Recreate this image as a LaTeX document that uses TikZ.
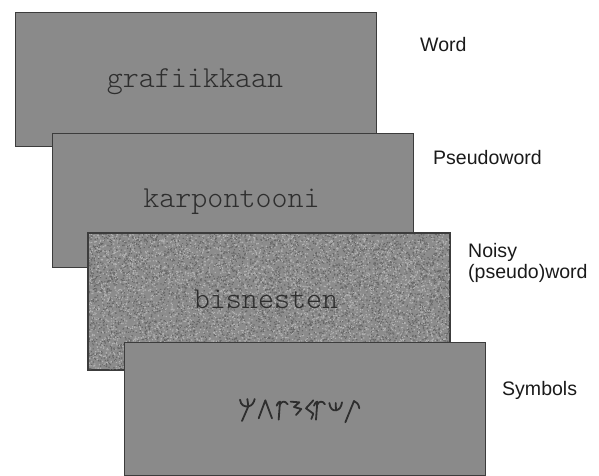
\documentclass[tikz,border=0pt]{standalone}
\usepackage{fontspec}
\setmainfont{Liberation Sans}
\newfontfamily\stimfont{Latin Modern Mono Light}
\definecolor{boxfill}{HTML}{8A8A8A}
\definecolor{boxedge}{HTML}{3C3C3C}
\definecolor{wordcol}{HTML}{2E2E2E}
\definecolor{labelcol}{HTML}{1A1A1A}
\definecolor{noisebase}{HTML}{8C8C8C}
\definecolor{noiselight}{HTML}{B2B2B2}
\definecolor{noisedark}{HTML}{676767}
\begin{document}
\begin{tikzpicture}[x=1bp,y=-1bp,
  card/.style={rectangle, fill=boxfill, draw=boxedge, line width=1.2bp, inner sep=0pt,
    minimum width=361bp, anchor=north west},
  stim/.style={anchor=base, text=wordcol, inner sep=0pt, font=\stimfont\fontsize{30.6}{33}\selectfont},
  lab/.style={anchor=base west, text=labelcol, inner sep=0pt, font=\fontsize{19.6}{21}\selectfont},
  glyph/.style={draw=wordcol, line width=1.8bp, line cap=round, line join=round}]
\useasboundingbox (0,0) rectangle (599,476);

% Word card
\node[card, minimum height=134bp] (word) at (15,12) {};
\node[stim] (wordtxt) at (195,88) {grafiikkaan};

% Pseudoword card
\node[card, minimum height=134bp] (pseudo) at (52,133) {};
\node[stim] (pseudotxt) at (231.5,208) {karpontooni};

% Noisy card
\node[card, fill=noisebase, minimum height=136bp] (noisy) at (88,233) {};
\begin{scope}
  \pgfmathsetseed{4711}
  \clip (noisy.north west) rectangle (noisy.south east);
  \foreach \b in {1,...,12}{
    \fill[noiselight] \foreach \i in {1,...,450}{ ({88+361*rnd},{233+136*rnd}) rectangle ++(1.2,1.2) };
    \fill[noisedark] \foreach \i in {1,...,450}{ ({88+361*rnd},{233+136*rnd}) rectangle ++(1.2,1.2) };
  }
\end{scope}
\draw[boxedge, line width=1.2bp] (noisy.north west) rectangle (noisy.south east);
\node[stim] (noisytxt) at (266,308) {bisnesten};

% Symbols card
\node[card, minimum height=133bp] (symb) at (124,342) {};
\begin{scope}[shift={(230,385)}, scale=1/3]
  % glyph 1
  \draw[glyph] (30,44) .. controls (32,62) and (45,66) .. (56,64) .. controls (66,62) and (72,52) .. (74,42);
  \draw[glyph] (52,42) -- (55,64) -- (36,108);
  % glyph 2
  \draw[glyph] (86,100) -- (106,46) -- (126,100);
  % glyph 3
  \draw[glyph] (140,62) .. controls (144,52) and (148,50) .. (150,50) -- (146,104);
  \draw[glyph] (149,60) .. controls (154,48) and (166,46) .. (173,58);
  % glyph 4
  \draw[glyph] (182,50) -- (208,52) -- (192,66) -- (214,72) -- (198,90);
  % glyph 5
  \draw[glyph] (250,46) -- (228,70) -- (250,86) -- (244,102);
  % glyph 6
  \draw[glyph] (252,62) .. controls (256,52) and (260,50) .. (262,50) -- (258,104);
  \draw[glyph] (261,60) .. controls (266,48) and (278,46) .. (285,58);
  % glyph 7
  \draw[glyph] (298,54) .. controls (300,72) and (310,78) .. (318,76) .. controls (328,74) and (334,66) .. (336,52);
  \draw[glyph] (317,54) -- (318,76);
  % glyph 8
  \draw[glyph] (346,112) -- (372,48) .. controls (380,50) and (386,58) .. (388,70);
\end{scope}

% Labels
\node[lab] (lword) at (420,52) {Word};
\node[lab] (lpseudo) at (433,165) {Pseudoword};
\node[lab] (lnoisy) at (468,258) {Noisy};
\node[lab] (lnoisy2) at (468,279) {(pseudo)word};
\node[lab] (lsymb) at (502,395) {Symbols};
\end{tikzpicture}
\end{document}
